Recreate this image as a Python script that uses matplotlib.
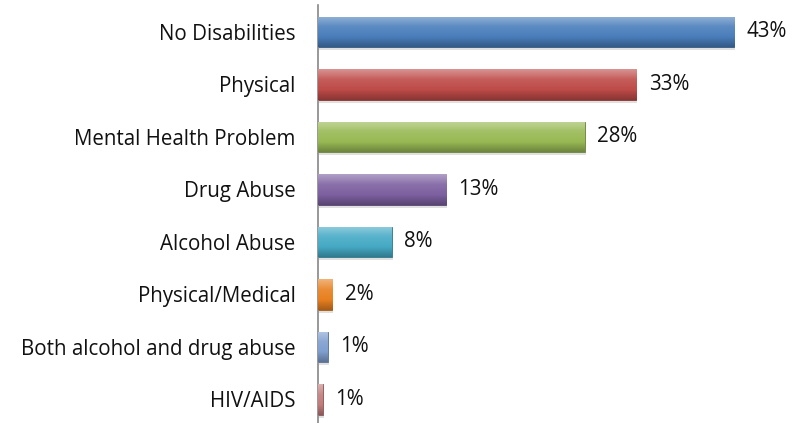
import matplotlib.pyplot as plt
import numpy as np
from matplotlib.colors import LinearSegmentedColormap, to_rgb

categories = ["No Disabilities", "Physical", "Mental Health Problem", "Drug Abuse",
              "Alcohol Abuse", "Physical/Medical", "Both alcohol and drug abuse", "HIV/AIDS"]
values = [42.9, 32.8, 27.5, 13.2, 7.6, 1.5, 1.0, 0.5]
labels = ["43%", "33%", "28%", "13%", "8%", "2%", "1%", "1%"]
colors = ["#4a7ebb", "#be4b48", "#98b954", "#7d60a0", "#46aac5", "#e8801f", "#7f9fcf", "#c27c7c"]

plt.rcParams['font.family'] = ['Open Sans', 'DejaVu Sans']

fig = plt.figure(figsize=(8.09, 4.23), dpi=100)
ax = fig.add_axes([0.393, 0.0, 0.6, 0.987])

y = np.arange(len(categories))
h = 0.58

def shade(c, f):
    r = np.array(to_rgb(c))
    if f > 0:
        return tuple(r + (1 - r) * f)
    return tuple(r * (1 + f))

for i, (v, c) in enumerate(zip(values, colors)):
    # soft shadow
    ax.barh(i + 0.06, v, height=h, left=0.1, color="#000000", alpha=0.12, linewidth=0, zorder=1)
    bar = ax.barh(i, v, height=h, color=c, edgecolor=shade(c, -0.3), linewidth=0.6, zorder=2)[0]
    cmap = LinearSegmentedColormap.from_list("g", [shade(c, 0.4), shade(c, 0.1), c, shade(c, -0.28)])
    grad = np.linspace(0, 1, 64).reshape(-1, 1)
    im = ax.imshow(grad, cmap=cmap, aspect="auto", extent=[0, v, i + h / 2, i - h / 2],
                   zorder=3, interpolation="bilinear")
    im.set_clip_path(bar)
    ax.annotate(labels[i], (v, i), xytext=(9, 0), textcoords="offset points",
                va="center", ha="left", fontsize=14.8, color="#111111")

ax.set_xlim(0, 50)
ax.set_ylim(7.45, -0.5)
ax.set_yticks(y)
ax.set_yticklabels(categories, fontsize=14.8, color="#111111")
ax.tick_params(axis="y", length=0, pad=16)
ax.set_xticks([])
for s in ["top", "right", "bottom"]:
    ax.spines[s].set_visible(False)
ax.spines["left"].set_color("#868686")
ax.spines["left"].set_linewidth(1.2)

fig.savefig("out.png", dpi=100)
